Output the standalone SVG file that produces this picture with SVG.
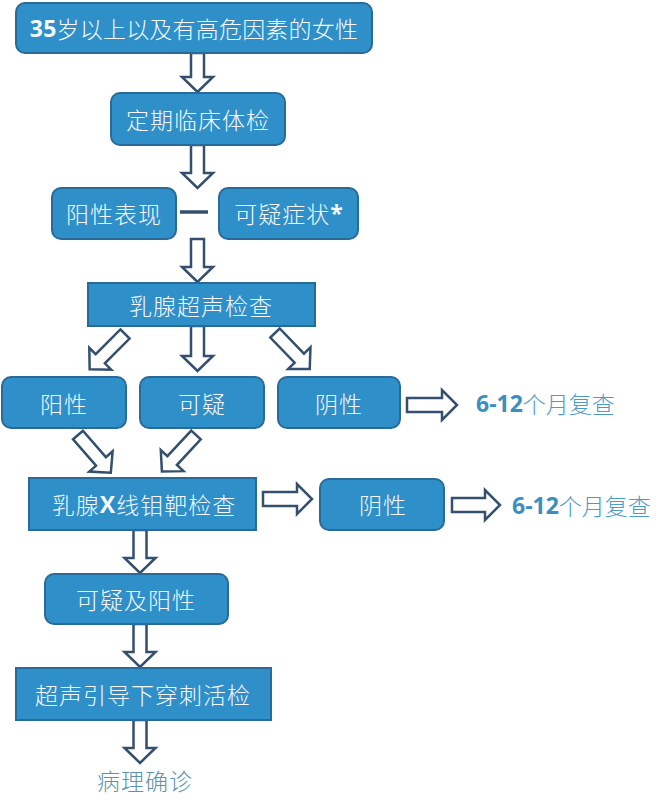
<svg xmlns="http://www.w3.org/2000/svg" xmlns:xlink="http://www.w3.org/1999/xlink" width="664" height="800" viewBox="0 0 664 800">
<style>
.box{fill:#2f8fc9;stroke:#2a6a98;stroke-width:2}
.t{font-family:"Noto Sans CJK SC","Noto Sans",sans-serif;font-size:23px;font-weight:300;fill:#f5f9fc;text-anchor:middle;dominant-baseline:central;letter-spacing:1px}
.b{font-family:"Open Sans","Noto Sans",sans-serif;font-weight:bold}
.arr{fill:#ffffff;stroke:#34506e;stroke-width:2.5;stroke-linejoin:miter}
.out{font-family:"Noto Sans CJK SC","Noto Sans",sans-serif;font-size:23px;font-weight:300;fill:#4a9bc8;dominant-baseline:central}
.ob{font-family:"Open Sans","Noto Sans",sans-serif;font-weight:bold;fill:#3a8fc0}
</style>
<defs>
<polygon id="diag" points="-6.5,0 6.5,0 6.5,35 15.5,35 0,50 -15.5,35 -6.5,35"/>
</defs>
<rect width="664" height="800" fill="#ffffff"/>
<g id="connectors">
<polygon class="arr" points="191,53 204,53 204,77 213,77 197.5,92 182,77 191,77"/>
<polygon class="arr" points="191,145 204,145 204,173 213,173 197.5,188 182,173 191,173"/>
<line x1="180" y1="212" x2="208" y2="212" stroke="#34506e" stroke-width="3.5"/>
<polygon class="arr" points="191,239 204,239 204,267 213,267 197.5,282 182,267 191,267"/>
<use class="arr" xlink:href="#diag" href="#diag" transform="translate(125,334) rotate(45)"/>
<polygon class="arr" points="191,326 204,326 204,356 213,356 197.5,371 182,356 191,356"/>
<use class="arr" xlink:href="#diag" href="#diag" transform="translate(275,333) rotate(-44)"/>
<polygon class="arr" points="407,398 442,398 442,390 457,405 442,420 442,412 407,412"/>
<use class="arr" xlink:href="#diag" href="#diag" transform="translate(78,435) rotate(-41)"/>
<use class="arr" xlink:href="#diag" href="#diag" transform="translate(196,435) rotate(43)"/>
<polygon class="arr" points="263,492 297,492 297,484 312,499 297,514 297,506 263,506"/>
<polygon class="arr" points="452,498 485,498 485,490 500,505 485,520 485,512 452,512"/>
<polygon class="arr" points="133.5,530 146.5,530 146.5,558 155.5,558 140,573 124.5,558 133.5,558"/>
<polygon class="arr" points="133.5,624 146.5,624 146.5,652 155.5,652 140,667 124.5,652 133.5,652"/>
<polygon class="arr" points="133.5,720 146.5,720 146.5,748 155.5,748 140,763 124.5,748 133.5,748"/>
</g>
<g id="n1"><rect class="box" x="16" y="3" width="356" height="50" rx="9"/><text class="t" x="194" y="28" style="letter-spacing:0.2px"><tspan class="b">35</tspan>岁以上以及有高危因素的女性</text></g>
<g id="n2"><rect class="box" x="111" y="93" width="174" height="52" rx="9"/><text class="t" x="198" y="119">定期临床体检</text></g>
<g id="n3"><rect class="box" x="52" y="188" width="124" height="51" rx="9"/><text class="t" x="114" y="213">阳性表现</text></g>
<g id="n4"><rect class="box" x="219" y="188" width="139" height="51" rx="9"/><text class="t" x="289" y="213">可疑症状<tspan class="b">*</tspan></text></g>
<g id="n5"><rect class="box" x="88" y="283" width="227" height="43"/><text class="t" x="201" y="305">乳腺超声检查</text></g>
<g id="n6"><rect class="box" x="2" y="377" width="124" height="51" rx="9"/><text class="t" x="64" y="403">阳性</text></g>
<g id="n7"><rect class="box" x="140" y="377" width="124" height="51" rx="9"/><text class="t" x="202" y="403">可疑</text></g>
<g id="n8"><rect class="box" x="278" y="377" width="122" height="51" rx="9"/><text class="t" x="339" y="403">阴性</text></g>
<g id="n9"><text class="out" x="476" y="403"><tspan class="ob">6-12</tspan>个月复查</text></g>
<g id="n10"><rect class="box" x="29" y="478" width="227" height="52"/><text class="t" x="144" y="504">乳腺<tspan class="b">X</tspan>线钼靶检查</text></g>
<g id="n11"><rect class="box" x="320" y="479" width="124" height="51" rx="9"/><text class="t" x="383" y="504">阴性</text></g>
<g id="n12"><text class="out" x="512" y="505"><tspan class="ob">6-12</tspan>个月复查</text></g>
<g id="n13"><rect class="box" x="45" y="574" width="183" height="50" rx="9"/><text class="t" x="136" y="599">可疑及阳性</text></g>
<g id="n14"><rect class="box" x="16" y="668" width="255" height="52"/><text class="t" x="143" y="694">超声引导下穿刺活检</text></g>
<g id="n15"><text class="out" x="145" y="780" style="text-anchor:middle;fill:#5d93ab;letter-spacing:1px">病理确诊</text></g>
</svg>
